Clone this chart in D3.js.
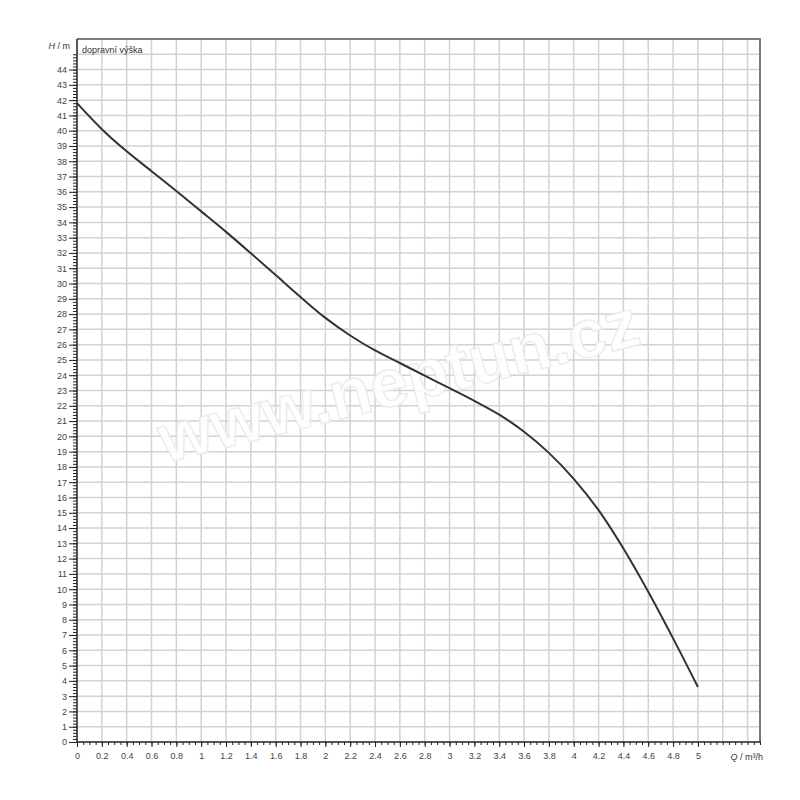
<!DOCTYPE html>
<html>
<head>
<meta charset="utf-8">
<script src="https://cdn.jsdelivr.net/npm/d3@7"></script>
<style>
  html, body { margin: 0; padding: 0; background: #fff; }
  svg text { font-family: "Liberation Sans", Arial, sans-serif; }
</style>
</head>
<body>
<svg id="chart" width="800" height="800"></svg>
<script>
// Data: flow Q (m³/h) vs head H (m)
const flowQ = [0, 0.2, 0.4, 0.6, 0.8, 1.0, 1.2, 1.4, 1.6, 1.8, 2.0, 2.2, 2.4, 2.6, 2.8, 3.0, 3.2, 3.4, 3.6, 3.8, 4.0, 4.2, 4.4, 4.6, 4.8, 5.0];
const headH = [41.8, 40.1, 38.65, 37.35, 36.05, 34.72, 33.38, 31.98, 30.55, 29.12, 27.75, 26.6, 25.62, 24.8, 23.97, 23.15, 22.32, 21.42, 20.3, 18.92, 17.22, 15.17, 12.66, 9.83, 6.78, 3.6];
const xTickLabels = ["0","0.2","0.4","0.6","0.8","1","1.2","1.4","1.6","1.8","2","2.2","2.4","2.6","2.8","3","3.2","3.4","3.6","3.8","4","4.2","4.4","4.6","4.8","5"];
const yTickValues = d3.range(0, 45);
const xAxisTitle = "Q / m³/h";
const yAxisUnit = " / m";
const yAxisVar = "H";
const curveLabel = "dopravní výška";
const watermark = "www.neptun.cz";

(function () {
const svg = d3.select("#chart");
const mLeft = 77, mRight = 760, mTop = 39, mBottom = 742;

const x = d3.scaleLinear().domain([0, 5.5]).range([mLeft, mRight]);
const y = d3.scaleLinear().domain([0, 46]).range([mBottom, mTop]);

// Grid
const grid = svg.append("g");
grid.selectAll("line.v").data(d3.range(1, 28).map(i => i * 0.2)).enter().append("line")
  .attr("x1", d => x(d)).attr("x2", d => x(d)).attr("y1", mTop).attr("y2", mBottom)
  .attr("stroke", "#d2d2d2").attr("stroke-width", 1.5);
grid.selectAll("line.h").data(d3.range(1, 46)).enter().append("line")
  .attr("x1", mLeft).attr("x2", mRight).attr("y1", d => y(d)).attr("y2", d => y(d))
  .attr("stroke", "#d2d2d2").attr("stroke-width", 1.5);

// Watermark
svg.append("text")
  .attr("transform", `translate(${x(2.6)},${y(23.3)}) rotate(-14)`)
  .attr("text-anchor", "middle")
  .attr("dominant-baseline", "middle")
  .attr("font-size", 68)
  .attr("font-weight", "bold")
  .attr("fill", "#ffffff")
  .attr("stroke", "#ebebeb")
  .attr("stroke-width", 1.5)
  .attr("opacity", 0.9)
  .text(watermark);

// Frame (top + right)
svg.append("line").attr("x1", mLeft).attr("x2", mRight + 1).attr("y1", mTop).attr("y2", mTop)
  .attr("stroke", "#7a7a7a").attr("stroke-width", 2);
svg.append("line").attr("x1", mRight).attr("x2", mRight).attr("y1", mTop).attr("y2", mBottom)
  .attr("stroke", "#7a7a7a").attr("stroke-width", 2);

// Curve
const line = d3.line().x((d, i) => x(flowQ[i])).y(d => y(d)).curve(d3.curveCatmullRom.alpha(0.5));
svg.append("path").datum(headH).attr("d", line)
  .attr("fill", "none").attr("stroke", "#333").attr("stroke-width", 2);

// Y axis minor ticks
const yMinor = d3.axisLeft(y).tickValues(d3.range(0, 45.01, 0.2)).tickSize(4).tickFormat("");
svg.append("g").attr("transform", `translate(${mLeft},0)`).call(yMinor)
  .call(g => g.select(".domain").remove())
  .call(g => g.selectAll("line").attr("stroke", "#222"));
// Y axis major
const yAxis = d3.axisLeft(y).tickValues(yTickValues).tickSize(8).tickPadding(2).tickFormat(d3.format("d"));
svg.append("g").attr("transform", `translate(${mLeft},0)`).call(yAxis)
  .call(g => g.select(".domain").attr("d", `M0,${mBottom}V${mTop}`).attr("stroke", "#222").attr("stroke-width", 1.5))
  .call(g => g.selectAll("line").attr("stroke", "#222"))
  .call(g => g.selectAll("text").attr("font-size", 9).attr("fill", "#444").attr("font-family", "Liberation Sans, Arial, sans-serif"));

// X axis minor
const xMinor = d3.axisBottom(x).tickValues(d3.range(0, 5.501, 0.05)).tickSize(3).tickFormat("");
svg.append("g").attr("transform", `translate(0,${mBottom})`).call(xMinor)
  .call(g => g.select(".domain").remove())
  .call(g => g.selectAll("line").attr("stroke", "#222"));
// X axis major
const xAxis = d3.axisBottom(x).tickValues(flowQ)
  .tickSize(5).tickPadding(6).tickFormat((d, i) => xTickLabels[i]);
svg.append("g").attr("transform", `translate(0,${mBottom})`).call(xAxis)
  .call(g => g.select(".domain").attr("d", `M${mLeft},0H${mRight + 1}`).attr("stroke", "#222").attr("stroke-width", 1.5))
  .call(g => g.selectAll("line").attr("stroke", "#222"))
  .call(g => g.selectAll("text").attr("font-size", 9).attr("fill", "#444").attr("font-family", "Liberation Sans, Arial, sans-serif"));

// Axis titles
const yt = svg.append("text").attr("x", 70).attr("y", 49).attr("text-anchor", "end")
  .attr("font-size", 9).attr("fill", "#333");
yt.append("tspan").attr("font-style", "italic").text(yAxisVar);
yt.append("tspan").text(yAxisUnit);

const xt = svg.append("text").attr("x", 763).attr("y", 760).attr("text-anchor", "end")
  .attr("font-size", 9).attr("fill", "#333");
xt.append("tspan").attr("font-style", "italic").text(xAxisTitle.slice(0, 1));
xt.append("tspan").text(xAxisTitle.slice(1));

svg.append("text").attr("x", 82).attr("y", 53)
  .attr("font-size", 9).attr("fill", "#333").text(curveLabel);
})();
</script>
</body>
</html>
